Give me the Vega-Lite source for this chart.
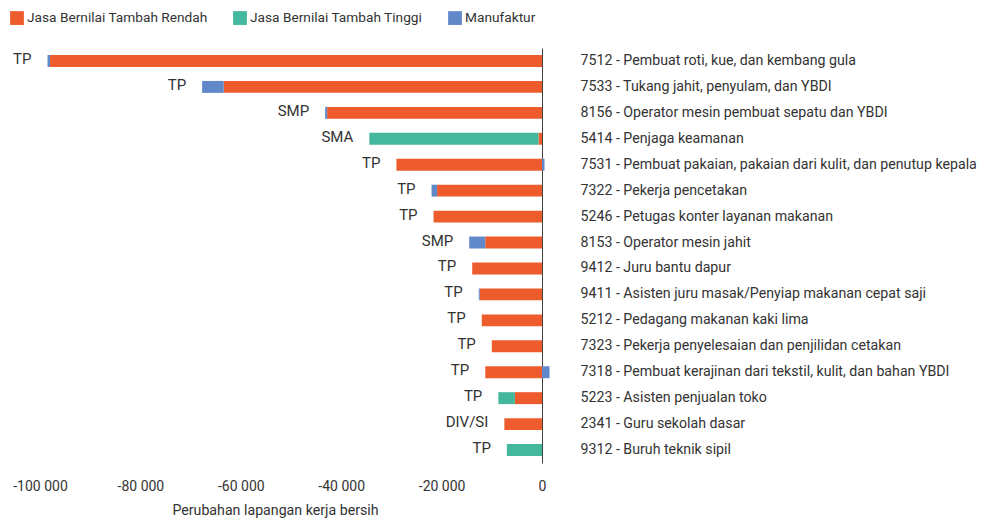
{
  "$schema": "https://vega.github.io/schema/vega-lite/v6.json",
  "width": 502,
  "height": 415,
  "autosize": {"type": "none"},
  "padding": {"left": 40, "top": 48, "right": 448, "bottom": 64},
  "background": "white",
  "config": {
    "view": {"stroke": null},
    "font": "Roboto",
    "locale": {"number": {"decimal": ",", "thousands": " ", "grouping": [3], "currency": ["", ""], "minus": "-"}}
  },
  "data": {
    "values": [
      {"occ": "7512 - Pembuat roti, kue, dan kembang gula", "edu": "TP", "sector": "Jasa Bernilai Tambah Rendah", "value": -98000},
      {"occ": "7512 - Pembuat roti, kue, dan kembang gula", "edu": "TP", "sector": "Manufaktur", "value": -500},
      {"occ": "7533 - Tukang jahit, penyulam, dan YBDI", "edu": "TP", "sector": "Jasa Bernilai Tambah Rendah", "value": -63400},
      {"occ": "7533 - Tukang jahit, penyulam, dan YBDI", "edu": "TP", "sector": "Manufaktur", "value": -4300},
      {"occ": "8156 - Operator mesin pembuat sepatu dan YBDI", "edu": "SMP", "sector": "Jasa Bernilai Tambah Rendah", "value": -42800},
      {"occ": "8156 - Operator mesin pembuat sepatu dan YBDI", "edu": "SMP", "sector": "Manufaktur", "value": -400},
      {"occ": "5414 - Penjaga keamanan", "edu": "SMA", "sector": "Jasa Bernilai Tambah Rendah", "value": -700},
      {"occ": "5414 - Penjaga keamanan", "edu": "SMA", "sector": "Jasa Bernilai Tambah Tinggi", "value": -33700},
      {"occ": "7531 - Pembuat pakaian, pakaian dari kulit, dan penutup kepala", "edu": "TP", "sector": "Jasa Bernilai Tambah Rendah", "value": -29000},
      {"occ": "7531 - Pembuat pakaian, pakaian dari kulit, dan penutup kepala", "edu": "TP", "sector": "Manufaktur", "value": 500},
      {"occ": "7322 - Pekerja pencetakan", "edu": "TP", "sector": "Jasa Bernilai Tambah Rendah", "value": -20900},
      {"occ": "7322 - Pekerja pencetakan", "edu": "TP", "sector": "Manufaktur", "value": -1100},
      {"occ": "5246 - Petugas konter layanan makanan", "edu": "TP", "sector": "Jasa Bernilai Tambah Rendah", "value": -21600},
      {"occ": "8153 - Operator mesin jahit", "edu": "SMP", "sector": "Jasa Bernilai Tambah Rendah", "value": -11300},
      {"occ": "8153 - Operator mesin jahit", "edu": "SMP", "sector": "Manufaktur", "value": -3200},
      {"occ": "9412 - Juru bantu dapur", "edu": "TP", "sector": "Jasa Bernilai Tambah Rendah", "value": -13900},
      {"occ": "9411 - Asisten juru masak/Penyiap makanan cepat saji", "edu": "TP", "sector": "Jasa Bernilai Tambah Rendah", "value": -12400},
      {"occ": "9411 - Asisten juru masak/Penyiap makanan cepat saji", "edu": "TP", "sector": "Manufaktur", "value": -200},
      {"occ": "5212 - Pedagang makanan kaki lima", "edu": "TP", "sector": "Jasa Bernilai Tambah Rendah", "value": -12000},
      {"occ": "7323 - Pekerja penyelesaian dan penjilidan cetakan", "edu": "TP", "sector": "Jasa Bernilai Tambah Rendah", "value": -10000},
      {"occ": "7318 - Pembuat kerajinan dari tekstil, kulit, dan bahan YBDI", "edu": "TP", "sector": "Jasa Bernilai Tambah Rendah", "value": -11300},
      {"occ": "7318 - Pembuat kerajinan dari tekstil, kulit, dan bahan YBDI", "edu": "TP", "sector": "Manufaktur", "value": 1500},
      {"occ": "5223 - Asisten penjualan toko", "edu": "TP", "sector": "Jasa Bernilai Tambah Rendah", "value": -5400},
      {"occ": "5223 - Asisten penjualan toko", "edu": "TP", "sector": "Jasa Bernilai Tambah Tinggi", "value": -3300},
      {"occ": "2341 - Guru sekolah dasar", "edu": "DIV/SI", "sector": "Jasa Bernilai Tambah Rendah", "value": -7500},
      {"occ": "9312 - Buruh teknik sipil", "edu": "TP", "sector": "Jasa Bernilai Tambah Tinggi", "value": -7000}
    ]
  },
  "encoding": {
    "y": {
      "field": "occ", "type": "nominal", "sort": null,
      "scale": {"paddingInner": 0.54, "paddingOuter": 0.27},
      "axis": {
        "orient": "right", "title": null, "ticks": false,
        "domainColor": "#404040", "domainWidth": 1,
        "labelPadding": 38, "labelAlign": "left", "labelLimit": 0,
        "labelFontSize": 14.2, "labelColor": "#333333", "labelFont": "Roboto"
      }
    }
  },
  "layer": [
    {
      "mark": {"type": "bar"},
      "encoding": {
        "x": {
          "field": "value", "type": "quantitative", "stack": "zero",
          "scale": {"domain": [-100000, 0], "nice": false, "clamp": false},
          "axis": {
            "values": [-100000, -80000, -60000, -40000, -20000, 0],
            "format": ",d", "grid": false, "ticks": false, "domain": false,
            "labelFontSize": 14, "labelColor": "#333333", "labelPadding": 16,
            "labelFlush": false,
            "title": "Perubahan lapangan kerja bersih", "titleFontSize": 14.2,
            "titleFontWeight": "normal", "titleColor": "#333333", "titlePadding": 10,
            "titleX": 235
          }
        },
        "color": {
          "field": "sector", "type": "nominal",
          "scale": {
            "domain": ["Jasa Bernilai Tambah Rendah", "Jasa Bernilai Tambah Tinggi", "Manufaktur"],
            "range": ["#EE5B2D", "#43B89C", "#6188C8"]
          },
          "legend": {
            "orient": "none", "legendX": -30, "legendY": -37,
            "direction": "horizontal", "title": null,
            "symbolType": "square", "symbolSize": 190, "symbolStrokeWidth": 0,
            "symbolOpacity": 1,
            "labelFontSize": 13.7, "labelColor": "#333333", "labelOffset": 3,
            "labelLimit": 0, "columnPadding": 25
          }
        },
        "order": {"field": "sector", "sort": "ascending"}
      }
    },
    {
      "transform": [
        {"filter": "datum.value < 0"},
        {"aggregate": [{"op": "sum", "field": "value", "as": "total"}], "groupby": ["occ", "edu"]}
      ],
      "mark": {"type": "text", "align": "right", "baseline": "middle", "dx": -16, "dy": -2, "fontSize": 15, "color": "#333333"},
      "encoding": {
        "x": {"field": "total", "type": "quantitative"},
        "text": {"field": "edu"}
      }
    }
  ]
}
